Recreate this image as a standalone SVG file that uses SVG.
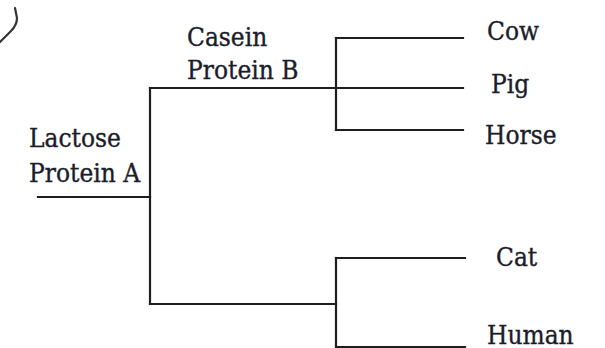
<svg xmlns="http://www.w3.org/2000/svg" width="605" height="348" viewBox="0 0 605 348">
  <style>
    .edge { fill: none; stroke: #1e1e1e; stroke-width: 2.2; stroke-linecap: square; }
    text { font-family: 'DejaVu Serif Condensed', 'DejaVu Serif', serif; font-stretch: condensed; font-size: 26px; fill: #1c1c2a; stroke: #1c1c2a; stroke-width: 0.35; }
  </style>
  <rect width="605" height="348" fill="#ffffff"/>
  <!-- stray curved stroke at the top-left corner -->
  <path d="M0,42 L11,31 Q17,25 17,18 L15,8" fill="none" stroke="#333" stroke-width="2.2" stroke-linecap="round"/>
  <g id="connectors">
    <path class="edge" d="M38,197 H150"/>
    <path class="edge" d="M150,88 V304"/>
    <path class="edge" d="M150,88 H463"/>
    <path class="edge" d="M336,38 V130"/>
    <path class="edge" d="M336,38 H463"/>
    <path class="edge" d="M336,130 H463"/>
    <path class="edge" d="M150,304 H336"/>
    <path class="edge" d="M336,258 V352"/>
    <path class="edge" d="M336,258 H465"/>
    <path class="edge" d="M336,347 H465"/>
  </g>
  <g id="node-lactose">
    <text x="29" y="147">Lactose</text>
    <text x="29" y="182">Protein A</text>
  </g>
  <g id="node-casein">
    <text x="187" y="46">Casein</text>
    <text x="187" y="79">Protein B</text>
  </g>
  <g id="node-cow"><text x="487" y="40">Cow</text></g>
  <g id="node-pig"><text x="491" y="93">Pig</text></g>
  <g id="node-horse"><text x="485" y="144">Horse</text></g>
  <g id="node-cat"><text x="496" y="266">Cat</text></g>
  <g id="node-human"><text x="487" y="344">Human</text></g>
</svg>
